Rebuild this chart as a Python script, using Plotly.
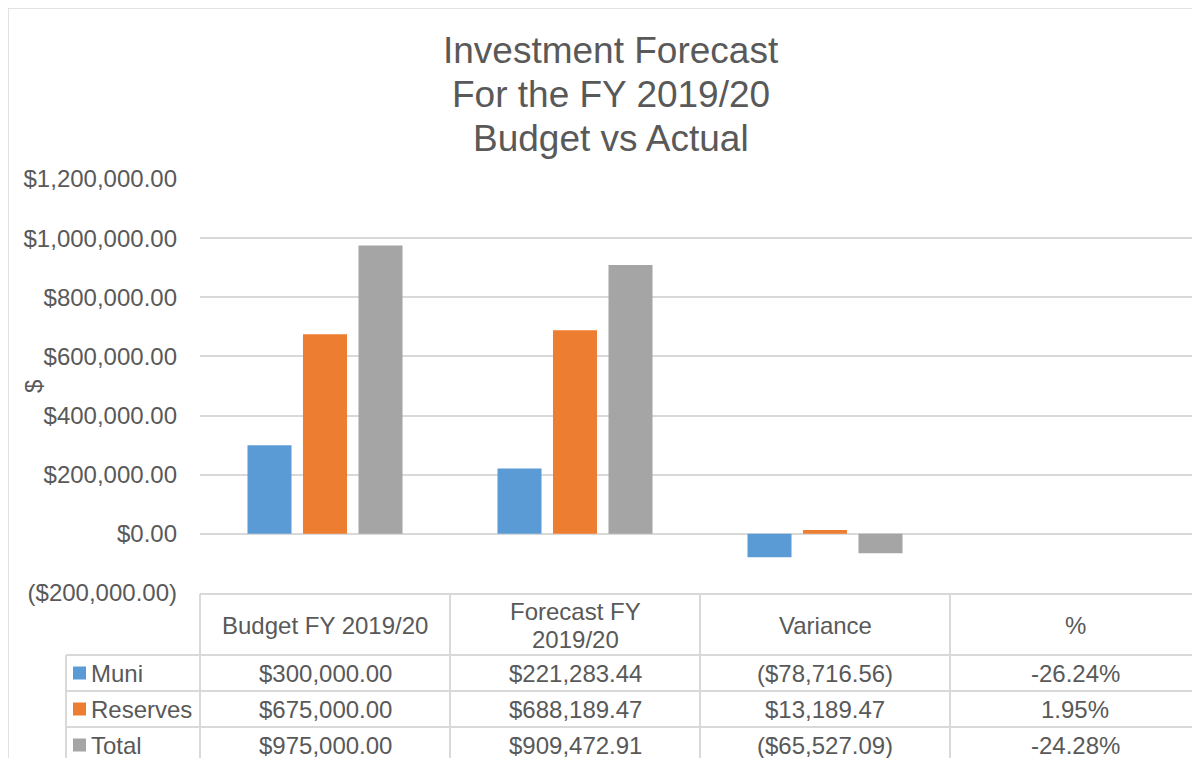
import plotly.graph_objects as go

# ---------------- data ----------------
categories = ["Budget FY 2019/20", "Forecast FY 2019/20", "Variance", "%"]
header_lines = [["Budget FY 2019/20"], ["Forecast FY", "2019/20"], ["Variance"], ["%"]]
series_names = ["Muni", "Reserves", "Total"]
muni = [300000.00, 221283.44, -78716.56, -0.2624]
reserves = [675000.00, 688189.47, 13189.47, 0.0195]
total = [975000.00, 909472.91, -65527.09, -0.2428]
colors = ["#5b9bd5", "#ed7d31", "#a5a5a5"]
y_ticks = [-200000, 0, 200000, 400000, 600000, 800000, 1000000, 1200000]
title_lines = ["Investment Forecast", "For the FY 2019/20", "Budget vs Actual"]

series_values = [muni, reserves, total]

W, H = 1200, 758
OFF = 8  # page body margin; page px = figure px + OFF
L, R = 200 - OFF, 0
T, B = 179 - OFF, H - (593 - OFF)
PW, PH = W - L - R, H - T - B
CAT_PX = 250
GRID = "#d9d9d9"
TXT = "#595959"
FONT = "Liberation Sans, Arial, sans-serif"
FS = 24


def px_x(x):
    # x given in page pixels
    return (x - OFF - L) / PW


def px_y(y):
    return (H - B - (y - OFF)) / PH


def money(v):
    s = "${:,.2f}".format(abs(v))
    return "(" + s + ")" if v < 0 else s


def pct(v):
    return "{:.2f}%".format(v * 100)


def fmt_cell(v, col):
    return pct(v) if categories[col] == "%" else money(v)


fig = go.Figure()
for name, vals, c in zip(series_names, series_values, colors):
    fig.add_trace(go.Bar(x=categories, y=vals, name=name, marker_color=c,
                         marker_line_width=0, hoverinfo="skip"))

shapes = []
annotations = []
font = dict(size=FS, color=TXT, family=FONT)

# outer chart border
shapes.append(dict(type="rect", xref="paper", yref="paper",
                   x0=px_x(8), x1=px_x(1225), y0=px_y(8), y1=px_y(785),
                   line=dict(color=GRID, width=1.5), layer="below"))

# table lines
line_style = dict(color=GRID, width=2)
shapes.append(dict(type="line", xref="paper", yref="paper", x0=px_x(200), x1=px_x(1215),
                   y0=px_y(594), y1=px_y(594), line=line_style))
for yy in [655, 691, 727]:
    shapes.append(dict(type="line", xref="paper", yref="paper", x0=px_x(66), x1=px_x(1215),
                       y0=px_y(yy), y1=px_y(yy), line=line_style))
shapes.append(dict(type="line", xref="paper", yref="paper", x0=px_x(66), x1=px_x(66),
                   y0=px_y(655), y1=px_y(785), line=line_style))
for i in range(len(categories)):
    xx = 200 + i * CAT_PX
    shapes.append(dict(type="line", xref="paper", yref="paper", x0=px_x(xx), x1=px_x(xx),
                       y0=px_y(594), y1=px_y(785), line=line_style))

# header texts
for cat, lines in zip(categories, header_lines):
    n = len(lines)
    for k, ln in enumerate(lines):
        yc = 625 + (k - (n - 1) / 2) * 28
        annotations.append(dict(x=cat, xref="x", y=px_y(yc), yref="paper", text=ln,
                                showarrow=False, xanchor="center", yanchor="middle",
                                font=font))

row_centers = [673, 709, 745]
for r, (name, vals, c) in enumerate(zip(series_names, series_values, colors)):
    yc = row_centers[r]
    shapes.append(dict(type="rect", xref="paper", yref="paper",
                       x0=px_x(73), x1=px_x(86), y0=px_y(yc - 6.5), y1=px_y(yc + 6.5),
                       fillcolor=c, line=dict(width=0)))
    annotations.append(dict(x=px_x(89), xref="paper", y=px_y(yc), yref="paper", text=name,
                            showarrow=False, xanchor="left", yanchor="middle", font=font))
    for col, (cat, v) in enumerate(zip(categories, vals)):
        annotations.append(dict(x=cat, xref="x", y=px_y(yc), yref="paper",
                                text=fmt_cell(v, col), showarrow=False,
                                xanchor="center", yanchor="middle", font=font))

# y axis title
annotations.append(dict(x=px_x(33), xref="paper", y=px_y(387), yref="paper", text="$",
                        textangle=-90, showarrow=False, xanchor="center", yanchor="middle",
                        font=font))

# title (three lines, Excel-like tight spacing)
for k, tl in enumerate(title_lines):
    annotations.append(dict(x=px_x(611), xref="paper", y=px_y(51 + k * 43.5), yref="paper",
                            text=tl, showarrow=False, xanchor="center", yanchor="middle",
                            font=dict(size=37, color=TXT, family=FONT)))

tick_text = [money(v) for v in y_ticks]

fig.update_layout(
    width=W, height=H,
    margin=dict(l=L, r=R, t=T, b=B, pad=0),
    paper_bgcolor="white", plot_bgcolor="white",
    barmode="group", bargap=0.334, bargroupgap=0.207,
    showlegend=False,
    font=dict(family=FONT, color=TXT, size=FS),
    xaxis=dict(showticklabels=False, showgrid=False, showline=False, zeroline=False,
               ticks="", range=[-0.5, -0.5 + PW / CAT_PX], fixedrange=True),
    yaxis=dict(range=[-200000, 1200000], tickvals=y_ticks, ticktext=tick_text,
               showgrid=True, gridcolor=GRID, gridwidth=1.5,
               zeroline=True, zerolinecolor=GRID, zerolinewidth=1.5,
               showline=False, ticks="", ticklabelstandoff=22,
               tickfont=font),
    shapes=shapes,
    annotations=annotations,
)

fig.write_html("out.html")
